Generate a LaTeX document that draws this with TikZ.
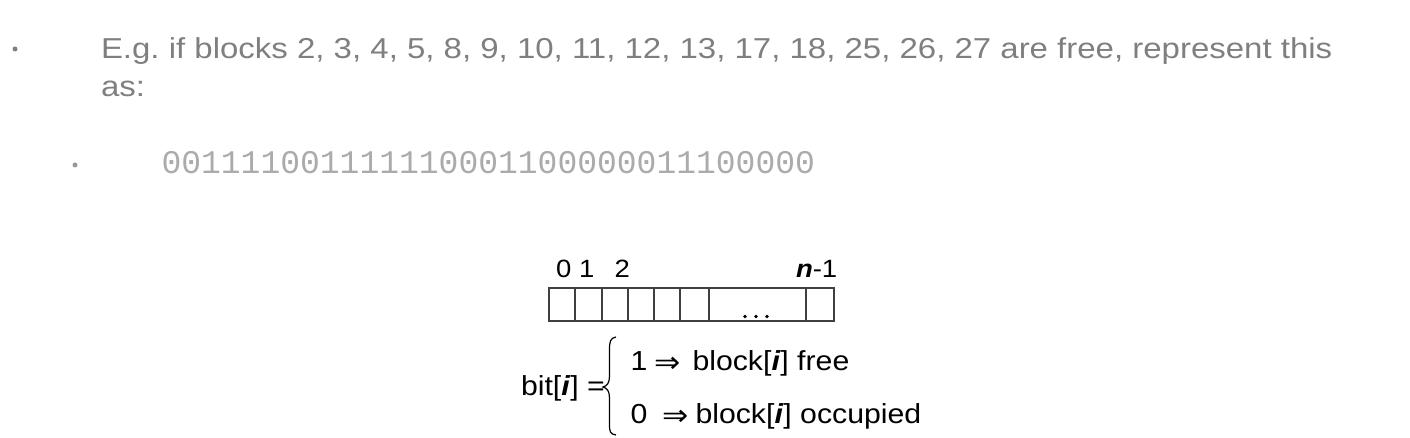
\documentclass[tikz,border=0pt]{standalone}
\usepackage{fontspec}
\setmainfont{Liberation Sans}
\newfontfamily\widesans[FakeStretch=1.145]{Liberation Sans}
\newfontfamily\diagsans[FakeStretch=1.1]{Liberation Sans}
\newfontfamily\monof{Liberation Mono}
\newfontfamily\dejavuw[FakeStretch=1.08]{DejaVu Sans}
\definecolor{txtgrey}{HTML}{7F7F7F}
\definecolor{bitgrey}{HTML}{ABABAB}
\definecolor{cellline}{HTML}{404040}
\frenchspacing
\begin{document}
\begin{tikzpicture}[x=1pt,y=-1pt,
  every node/.style={inner sep=0pt,outer sep=0pt},
  bodytxt/.style={anchor=base west,text=txtgrey,font=\widesans\fontsize{28.8}{34}\selectfont},
  bittxt/.style={anchor=base west,text=bitgrey,font=\monof\fontsize{33}{38}\selectfont},
  lbl/.style={anchor=base west,text=black,font=\diagsans\fontsize{25}{29}\selectfont},
  eqtxt/.style={anchor=base west,text=black,font=\diagsans\fontsize{27.5}{32}\selectfont},
  arr/.style={anchor=base west,text=black,font=\dejavuw\fontsize{29}{33}\selectfont},
  bulletdot/.style={circle,fill=txtgrey,minimum size=5pt},
  cell/.style={draw=cellline,line width=1.4pt}]
\useasboundingbox (0,0) rectangle (1410,438);
% bullets and text
\node[bulletdot] (b1) at (15,49) {};
\node[bodytxt] (l1) at (101,58.3) {E.g. if blocks 2, 3, 4, 5, 8, 9, 10, 11, 12, 13, 17, 18, 25, 26, 27 are free, represent this};
\node[bodytxt] (l2) at (101,96.7) {as:};
\node[bulletdot,fill=txtgrey!80] (b2) at (75,165) {};
\node[bittxt] (bits) at (161.5,173.3) {001111001111110001100000011100000};
% index labels
\node[lbl] (i0) at (556,277) {0};
\node[lbl] (i1) at (579,277) {1};
\node[lbl] (i2) at (614.5,277) {2};
\node[lbl] (in) at (796,277) {\textbf{\textit{n}}-1};
% cells
\foreach \a/\b in {549/575,575/602,602/628,628/654,654/680,680/709,709/806,806/834}
  \draw[cell] (\a,288) rectangle (\b,321);
\foreach \x in {745,756,767}
  \fill[black] (\x,316.5) circle (1.9pt);
% bit definition
\node[eqtxt] (bit) at (521,395) {bit[\textbf{\textit{i}}] =};
\coordinate (bt) at (616,337);
\coordinate (bm) at (603,387);
\coordinate (bb) at (616,435);
\draw[black,line width=1.2pt] (bt) .. controls (610,338) and (609.5,342) .. (609.5,350)
  -- (609.5,376) .. controls (609.5,383) and (607,386) .. (bm)
  .. controls (607,388) and (609.5,391) .. (609.5,398)
  -- (609.5,424) .. controls (609.5,432) and (610,434) .. (bb);
\node[eqtxt] (one) at (630.5,370) {1};
\node[arr] (a1) at (654,372.5) {⇒};
\node[eqtxt] (free) at (692.5,370) {block[\textbf{\textit{i}}] free};
\node[eqtxt] (zero) at (630.5,423) {0};
\node[arr] (a2) at (662,425.5) {⇒};
\node[eqtxt] (occ) at (695.5,423) {block[\textbf{\textit{i}}] occupied};
\end{tikzpicture}
\end{document}
